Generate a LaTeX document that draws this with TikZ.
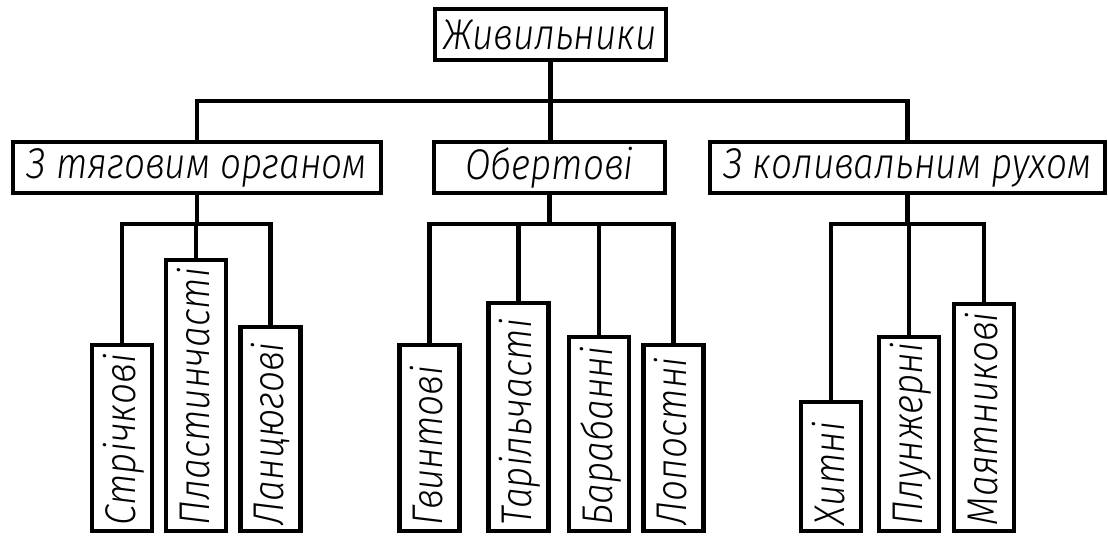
\documentclass[tikz,border=0pt]{standalone}
\usepackage{fontspec}
\newfontfamily\gost{Fira Sans Light Italic}[FakeStretch=0.86]
\tikzset{
  gfont/.style={font=\gost\fontsize{43}{43}\selectfont},
  hbox/.style={draw, rectangle, inner sep=0pt, minimum height=51pt, gfont},
  leafbox/.style={draw, rectangle, inner sep=0pt, minimum width=60pt},
  vtext/.style={rotate=90, anchor=base west, inner sep=0pt, gfont},
  conn/.style={line width=4.5pt}
}
\begin{document}
\begin{tikzpicture}[x=1pt, y=-1pt, line width=4.5pt]
\useasboundingbox (0,0) rectangle (1108,536);
% top
\node[hbox, minimum width=231pt] (root) at (550.5,34.5) {Живильники};
% level 2
\node[hbox, minimum width=368pt] (a1) at (197,167.5) {З тяговим органом};
\node[hbox, minimum width=231pt] (a2) at (549.5,167.5) {Обертові};
\node[hbox, minimum width=395pt] (a3) at (907.5,167.5) {З коливальним рухом};
% leaves
\node[leafbox, minimum height=186pt] (b1) at (122,438) {};
\node[leafbox, minimum height=271pt] (b2) at (196,395.5) {};
\node[leafbox, minimum height=204pt] (b3) at (270.5,429) {};
\node[leafbox, minimum height=186pt] (c1) at (429.5,438) {};
\node[leafbox, minimum height=228pt] (c2) at (518.5,417) {};
\node[leafbox, minimum height=194pt] (c3) at (599,434) {};
\node[leafbox, minimum height=186pt] (c4) at (673.5,438) {};
\node[leafbox, minimum height=129pt] (d1) at (831,466.5) {};
\node[leafbox, minimum height=194pt] (d2) at (909,434) {};
\node[leafbox, minimum height=227pt] (d3) at (984,417.5) {};
% vertical texts
\node[vtext] (tb1) at ([xshift=13pt,yshift=6pt]b1.south) {Стрічкові};
\node[vtext] (tb2) at ([xshift=13pt,yshift=6pt]b2.south) {Пластинчасті};
\node[vtext] (tb3) at ([xshift=13pt,yshift=6pt]b3.south) {Ланцюгові};
\node[vtext] (tc1) at ([xshift=13pt,yshift=6pt]c1.south) {Гвинтові};
\node[vtext] (tc2) at ([xshift=13pt,yshift=6pt]c2.south) {Тарільчасті};
\node[vtext] (tc3) at ([xshift=13pt,yshift=6pt]c3.south) {Барабанні};
\node[vtext] (tc4) at ([xshift=13pt,yshift=6pt]c4.south) {Лопостні};
\node[vtext] (td1) at ([xshift=13pt,yshift=6pt]d1.south) {Хитні};
\node[vtext] (td2) at ([xshift=13pt,yshift=6pt]d2.south) {Плунжерні};
\node[vtext] (td3) at ([xshift=13pt,yshift=6pt]d3.south) {Маятникові};
% junction levels
\coordinate (y1) at (0,101);
\coordinate (y2) at (0,224);
% connectors level 1
\draw[conn] (root.south) -- (root.south |- a2.north);
\draw[conn] (a1.north) -- (a1.north |- y1) -- (a3.north |- y1) -- (a3.north);
% group 1
\draw[conn] (a1.south) -- (a1.south |- y2);
\draw[conn] (b1.north) -- (b1.north |- y2) -- (b3.north |- y2) -- (b3.north);
\draw[conn] (b2.north) -- (b2.north |- y2);
% group 2
\draw[conn] (a2.south) -- (a2.south |- y2);
\draw[conn] (c1.north) -- (c1.north |- y2) -- (c4.north |- y2) -- (c4.north);
\draw[conn] (c2.north) -- (c2.north |- y2);
\draw[conn] (c3.north) -- (c3.north |- y2);
% group 3
\draw[conn] (a3.south) -- (a3.south |- y2);
\draw[conn] (d1.north) -- (d1.north |- y2) -- (d3.north |- y2) -- (d3.north);
\draw[conn] (d2.north) -- (d2.north |- y2);
\end{tikzpicture}
\end{document}
